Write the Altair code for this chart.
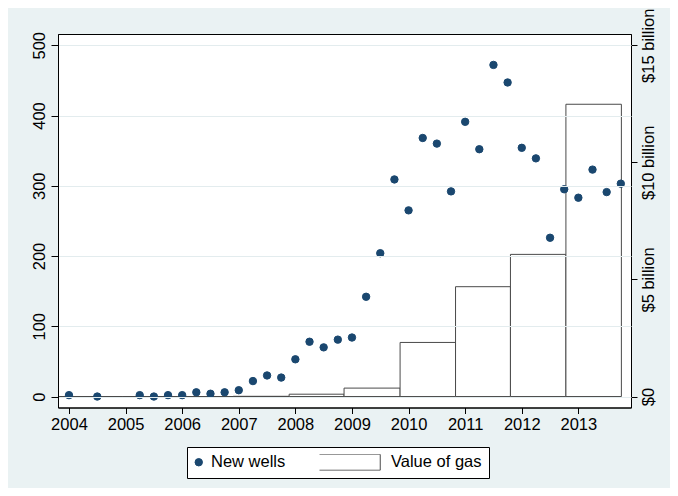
import altair as alt
import pandas as pd

# ---- data ----
well_dates = [2004.0, 2004.5, 2005.25, 2005.5, 2005.75, 2006.0, 2006.25, 2006.5, 2006.75,
              2007.0, 2007.25, 2007.5, 2007.75, 2008.0, 2008.25, 2008.5, 2008.75,
              2009.0, 2009.25, 2009.5, 2009.75, 2010.0, 2010.25, 2010.5, 2010.75,
              2011.0, 2011.25, 2011.5, 2011.75, 2012.0, 2012.25, 2012.5, 2012.75,
              2013.0, 2013.25, 2013.5, 2013.75]
new_wells = [2, 0, 2, 0, 2, 2, 6, 4, 6,
             9, 22, 30, 27, 53, 78, 70, 81,
             84, 142, 204, 309, 265, 368, 360, 292,
             391, 352, 472, 447, 354, 339, 226, 295,
             283, 323, 291, 303]

gas_years = [2004, 2005, 2006, 2007, 2008, 2009, 2010, 2011, 2012, 2013]
gas_bar_start = [2003.81, 2004.94, 2005.92, 2006.90, 2007.89, 2008.86, 2009.85, 2010.83, 2011.80, 2012.78]
gas_bar_end = [2004.94, 2005.92, 2006.90, 2007.89, 2008.86, 2009.85, 2010.83, 2011.80, 2012.78, 2013.76]
gas_value_billion = [0.0, 0.0, 0.0, 0.01, 0.10, 0.36, 2.31, 4.69, 6.07, 12.48]

x_ticks = [2004, 2005, 2006, 2007, 2008, 2009, 2010, 2011, 2012, 2013]
wells_ticks = [0, 100, 200, 300, 400, 500]
gas_ticks = [0, 5, 10, 15]
series_names = ["New wells", "Value of gas"]

wells_df = pd.DataFrame({"date": well_dates, "wells": new_wells, "series": series_names[0]})
gas_df = pd.DataFrame({"year": gas_years, "start": gas_bar_start, "end": gas_bar_end,
                       "gas": gas_value_billion, "series": series_names[1]})

FONT = "Liberation Sans"
FS = 16.5
NAVY = "#1A476F"
BG = "#EAF2F3"

x_scale = alt.Scale(domain=[2003.806, 2013.93], nice=False, zero=False)
x_axis = alt.Axis(values=x_ticks, format="d", title=None, labelAngle=0, tickSize=6,
                  labelPadding=3, grid=False, labelFontSize=FS, labelFont=FONT,
                  labelColor="black", domainColor="black", tickColor="black")

bars = alt.Chart(gas_df).mark_rect(fill="white", stroke="#4a4a4a", strokeWidth=1).encode(
    x=alt.X("start:Q", scale=x_scale, axis=x_axis),
    x2="end:Q",
    y=alt.Y("gas:Q",
            scale=alt.Scale(domain=[-0.468, 15.48], nice=False, zero=False),
            axis=alt.Axis(orient="right", values=gas_ticks, title=None,
                          labelExpr="datum.value == 0 ? '$0' : '$' + datum.value + ' billion'",
                          labelAngle=270, labelAlign="center", labelBaseline="top",
                          labelPadding=3, tickSize=6, grid=False, labelFontSize=FS,
                          labelFont=FONT, labelColor="black", domainColor="black",
                          tickColor="black")),
    y2=alt.datum(0),
)

# legend key for the bars: a wide box, left-aligned in its symbol cell
BAR_KEY = "M-1,-0.23H0.827V0.23H-1Z"

points = alt.Chart(wells_df).mark_point(filled=True, opacity=1, strokeWidth=1).encode(
    x=alt.X("date:Q", scale=x_scale, axis=x_axis),
    y=alt.Y("wells:Q",
            scale=alt.Scale(domain=[-15.6, 516], nice=False, zero=False),
            axis=alt.Axis(orient="left", values=wells_ticks, title=None,
                          labelAngle=270, labelAlign="center", labelBaseline="alphabetic",
                          labelPadding=7, tickSize=7, grid=True, gridColor="#E3ECEE",
                          labelFontSize=FS, labelFont=FONT, labelColor="black",
                          domainColor="black", tickColor="black", zindex=1)),
    fill=alt.Fill("series:N",
                  scale=alt.Scale(domain=series_names, range=[NAVY, "#FFFFFF"]),
                  legend=alt.Legend(title=None, orient="none", legendX=129, legendY=413,
                                    direction="horizontal", fillColor="white",
                                    strokeColor="black", padding=7, labelFontSize=FS,
                                    labelFont=FONT, labelColor="black", labelOffset=4,
                                    symbolOffset=-3.5, columnPadding=33.5,
                                    symbolStrokeWidth=1, symbolOpacity=1, clipHeight=16)),
    stroke=alt.Stroke("series:N",
                      scale=alt.Scale(domain=series_names, range=[NAVY, "#4a4a4a"])),
    shape=alt.Shape("series:N",
                    scale=alt.Scale(domain=series_names, range=["circle", BAR_KEY])),
    size=alt.Size("series:N",
                  scale=alt.Scale(domain=series_names, range=[55, 4830])),
)

chart = alt.layer(bars, points).resolve_scale(y="independent").properties(
    width=573, height=373.5,
    autosize=alt.AutoSizeParams(type="none"),
    padding={"left": 50, "top": 26, "right": 39, "bottom": 80},
    background=BG,
).configure_view(fill="white", stroke="black", strokeWidth=1)

chart.save("out.html", embed_options={"renderer": "svg", "actions": False})
